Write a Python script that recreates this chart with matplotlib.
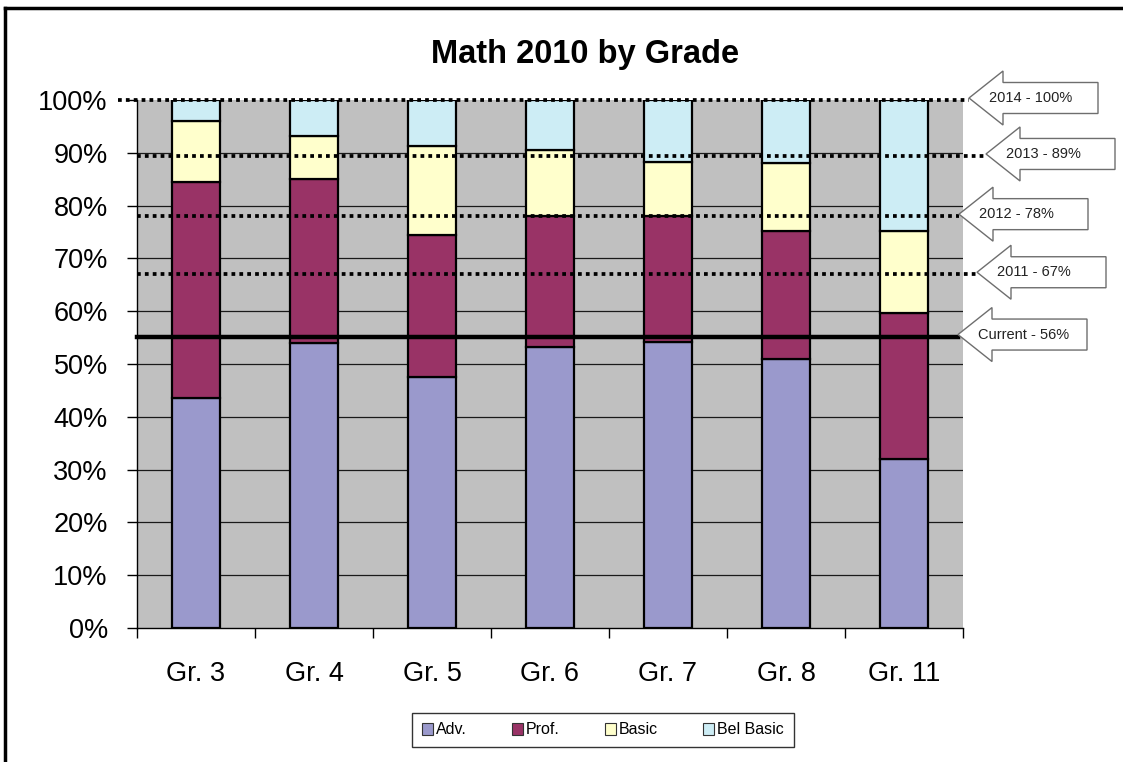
import matplotlib
matplotlib.use('Agg')
import matplotlib.pyplot as plt
import matplotlib.patches as mpatches
from matplotlib.lines import Line2D
import numpy as np

plt.rcParams['font.family'] = ['Liberation Sans', 'DejaVu Sans']

grades = ['Gr. 3', 'Gr. 4', 'Gr. 5', 'Gr. 6', 'Gr. 7', 'Gr. 8', 'Gr. 11']
adv = [43.6, 54.0, 47.6, 53.2, 54.2, 50.9, 32.0]
prof = [40.9, 31.0, 26.8, 24.8, 23.8, 24.3, 27.7]
basic = [11.5, 8.2, 16.8, 12.5, 10.2, 12.8, 15.5]
bel_basic = [4.0, 6.8, 8.8, 9.5, 11.8, 12.0, 24.8]
series_names = ['Adv.', 'Prof.', 'Basic', 'Bel Basic']
series_colors = ['#9a99cc', '#993366', '#ffffcc', '#cdedf5']

# goal lines (value, label)
goal_values = [100, 89.4, 78, 67, 55.2]
goal_labels = ['2014 - 100%', '2013 - 89%', '2012 - 78%', '2011 - 67%', 'Current - 56%']
# arrow tip x in figure pixels (staggered)
arrow_tip_px = [969, 986, 959, 977, 958]

W, H = 1123, 762
fig = plt.figure(figsize=(W / 100, H / 100), dpi=100)
fig.patch.set_facecolor('white')
ax = fig.add_axes([137 / W, 1 - 628 / H, (963 - 137) / W, (628 - 100) / H])
ax.set_facecolor('#c0c0c0')

x = np.arange(len(grades))
bottom = np.zeros(len(grades))
for vals, name, col in zip([adv, prof, basic, bel_basic], series_names, series_colors):
    ax.bar(x, vals, width=0.4, bottom=bottom, color=col, edgecolor='black',
           linewidth=1.6, label=name, zorder=3)
    bottom += np.array(vals)

ax.set_xlim(-0.5, len(grades) - 0.5)
ax.set_ylim(0, 100)
ax.set_yticks(range(0, 101, 10))
ax.set_yticklabels([f'{v}%' for v in range(0, 101, 10)], fontsize=19.5)
ax.set_xticks(x)
ax.set_xticklabels(grades, fontsize=19.5)
ax.set_xticks(np.arange(-0.5, len(grades), 1), minor=True)
ax.tick_params(axis='x', which='major', length=0, pad=24)
ax.tick_params(axis='x', which='minor', length=7, width=1)
ax.tick_params(axis='y', length=7, width=1, pad=14)

for v in range(10, 100, 10):
    ax.axhline(v, color='#1a1a1a', linewidth=0.9, zorder=1)

for s in ['top', 'right']:
    ax.spines[s].set_visible(False)
for s in ['left', 'bottom']:
    ax.spines[s].set_linewidth(1.0)

fig.canvas.draw()
ax_left_px = 137
ax_w_px = 963 - 137

for i, (val, lab, tip) in enumerate(zip(goal_values, goal_labels, arrow_tip_px)):
    xmin = 0 if i > 0 else (118 - ax_left_px) / ax_w_px
    xmax = (tip - ax_left_px) / ax_w_px
    if i == len(goal_values) - 1:
        ax.axhline(val, xmin=xmin, xmax=xmax, color='black', linewidth=3.2,
                   clip_on=False, zorder=5)
    else:
        ax.axhline(val, xmin=xmin, xmax=xmax, color='black',
                   linewidth=2.7, linestyle=(0, (1, 1.1)), clip_on=False, zorder=5)

    # block arrow pointing left
    ty = ax.transData.transform((0, val))[1] + 2
    hl, hh, bh, tl = 34, 27, 15.5, 129
    pts = [(tip, ty), (tip + hl, ty + hh), (tip + hl, ty + bh), (tip + tl, ty + bh),
           (tip + tl, ty - bh), (tip + hl, ty - bh), (tip + hl, ty - hh)]
    pts = [(px / W, py / H) for px, py in pts]
    fig.patches.append(mpatches.Polygon(pts, closed=True, facecolor='white',
                                        edgecolor='#6e6e6e', linewidth=1.0,
                                        transform=fig.transFigure, zorder=6))
    fig.text((tip + 20) / W, ty / H, lab, fontsize=10.5, ha='left', va='center',
             color='#222222', zorder=7)

fig.text(585 / W, 1 - 55 / H, 'Math 2010 by Grade', fontsize=23.5, fontweight='bold',
         ha='center', va='center')

handles = [mpatches.Patch(facecolor=c, edgecolor='#333333', linewidth=0.8) for c in series_colors]
leg = fig.legend(handles, series_names, loc='center', bbox_to_anchor=(603 / W, 1 - 730 / H),
                 ncol=4, fontsize=11.5, frameon=True, fancybox=False, handlelength=0.7,
                 handleheight=0.7, handletextpad=0.2, columnspacing=2.8,
                 borderpad=0.6)
leg.get_frame().set_edgecolor('black')
leg.get_frame().set_linewidth(1.0)

# figure border (left and top)
fig.lines.append(Line2D([5 / W, 5 / W], [0, 1 - 8 / H], color='black', linewidth=2.5,
                        transform=fig.transFigure))
fig.lines.append(Line2D([5 / W, 1], [1 - 8 / H, 1 - 8 / H], color='black', linewidth=2.5,
                        transform=fig.transFigure))

fig.savefig('out.png', dpi=100)
